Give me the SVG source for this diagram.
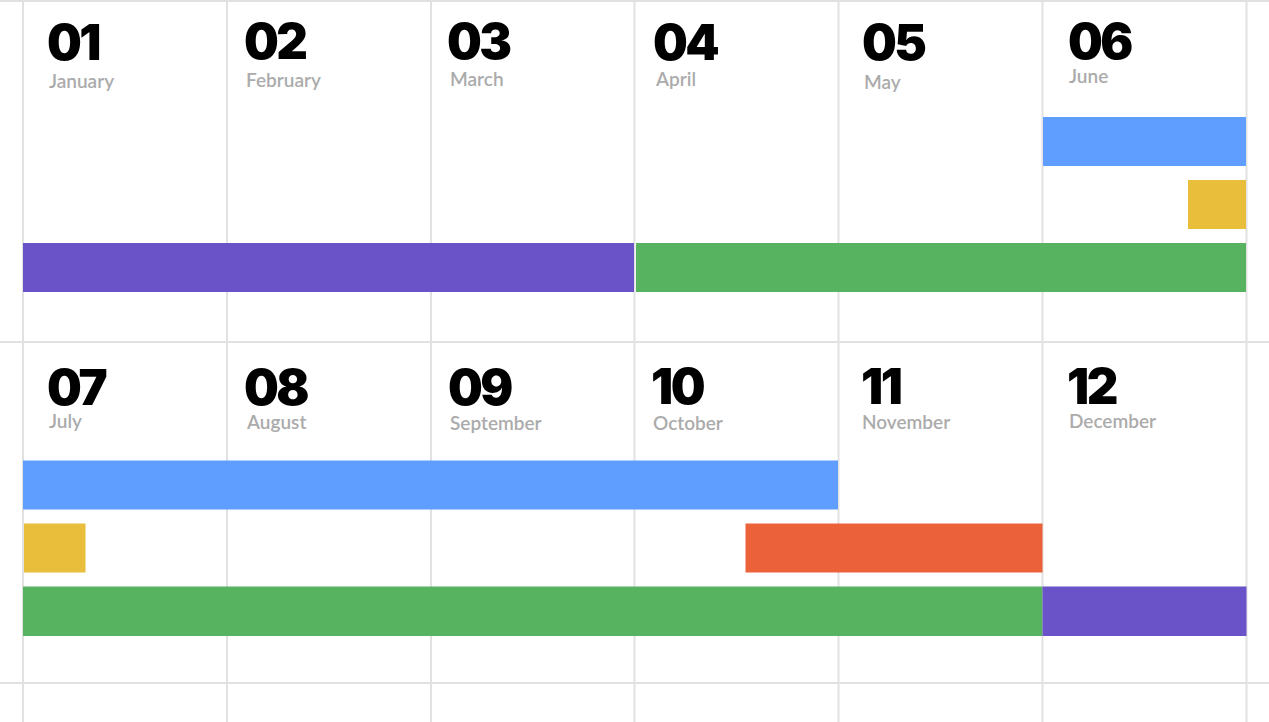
<svg xmlns="http://www.w3.org/2000/svg" width="1269" height="722" viewBox="0 0 1269 722">
<style>
.grid line{stroke:#e1e1e1;stroke-width:2}
.num{font-family:Inter,Lato,"Liberation Sans",sans-serif;font-weight:900;font-size:49px;letter-spacing:-2.5px;fill:#000}
.mon{font-family:Lato,"Open Sans","Liberation Sans",sans-serif;font-weight:600;font-size:19px;fill:#ababab}
.blue{fill:#5f9dff}.yellow{fill:#e8be3a}.purple{fill:#6a53c9}.green{fill:#57b360}.orange{fill:#eb613a}
</style>
<rect width="1269" height="722" fill="#fff"/>
<g id="grid" class="grid">
<line x1="0" y1="1" x2="1269" y2="1"/>
<line x1="0" y1="342" x2="1269" y2="342"/>
<line x1="0" y1="683" x2="1269" y2="683"/>
<line x1="23" y1="0" x2="23" y2="722"/>
<line x1="227" y1="0" x2="227" y2="722"/>
<line x1="431" y1="0" x2="431" y2="722"/>
<line x1="634.5" y1="0" x2="634.5" y2="722"/>
<line x1="838.5" y1="0" x2="838.5" y2="722"/>
<line x1="1042.5" y1="0" x2="1042.5" y2="722"/>
<line x1="1246.5" y1="0" x2="1246.5" y2="722"/>
</g>
<g id="m01"><text class="num" x="47" y="60">01</text><text class="mon" x="49" y="88">January</text></g>
<g id="m02"><text class="num" x="244" y="58.5">02</text><text class="mon" x="246" y="87">February</text></g>
<g id="m03"><text class="num" x="447" y="58.5">03</text><text class="mon" x="450" y="86">March</text></g>
<g id="m04"><text class="num" x="653" y="60">04</text><text class="mon" x="656" y="86">April</text></g>
<g id="m05"><text class="num" x="862" y="60">05</text><text class="mon" x="864" y="88.5">May</text></g>
<g id="m06"><text class="num" x="1068" y="58.5">06</text><text class="mon" x="1069" y="82.5">June</text></g>
<g id="m07"><text class="num" x="47" y="405">07</text><text class="mon" x="49" y="427.5">July</text></g>
<g id="m08"><text class="num" x="244" y="404.5">08</text><text class="mon" x="247" y="428.5">August</text></g>
<g id="m09"><text class="num" x="448" y="405">09</text><text class="mon" x="450" y="429.5">September</text></g>
<g id="m10"><text class="num" x="651" y="403.5">10</text><text class="mon" x="653" y="430">October</text></g>
<g id="m11"><text class="num" x="861" y="403.5">11</text><text class="mon" x="862" y="428.5">November</text></g>
<g id="m12"><text class="num" x="1067" y="403.5">12</text><text class="mon" x="1069" y="427.5">December</text></g>
<g id="bars">
<g id="bar-blue-1"><rect class="blue" x="1043" y="117" width="203" height="49"/></g>
<g id="bar-yellow-1"><rect class="yellow" x="1188" y="180" width="58" height="49"/></g>
<g id="bar-purple-1"><rect class="purple" x="23" y="243" width="611" height="49"/></g>
<g id="bar-green-1"><rect class="green" x="636" y="243" width="610" height="49"/></g>
<g id="bar-blue-2"><rect class="blue" x="23" y="460.5" width="815" height="49"/></g>
<g id="bar-yellow-2"><rect class="yellow" x="24" y="523.5" width="61.5" height="49"/></g>
<g id="bar-orange"><rect class="orange" x="745.5" y="523.5" width="297" height="49"/></g>
<g id="bar-green-2"><rect class="green" x="23" y="586.5" width="1019.5" height="49.5"/></g>
<g id="bar-purple-2"><rect class="purple" x="1042.5" y="586.5" width="204" height="49.5"/></g>
</g>
</svg>
